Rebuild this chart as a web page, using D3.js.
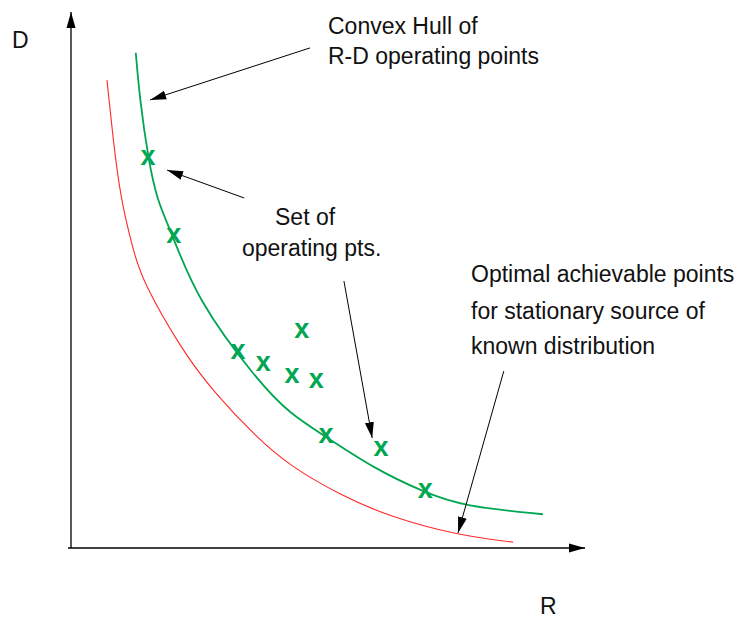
<!DOCTYPE html>
<meta charset="utf-8">
<title>R-D operating points</title>
<style>
  body { margin: 0; background: #fff; }
  svg { font-family: "Liberation Sans", Arial, sans-serif; }
  .axis-line { stroke: #000; stroke-width: 1.3; fill: none; }
  .hull { stroke: #00a651; stroke-width: 1.8; fill: none; }
  .bound { stroke: #ff2a2a; stroke-width: 1.1; fill: none; }
  .pt { fill: #00a651; font-weight: bold; font-size: 27px; text-anchor: middle; }
  .note { font-size: 23px; fill: #111; }
  .pointer { stroke: #000; stroke-width: 1; fill: none; }
</style>
<body>
<script src="https://cdn.jsdelivr.net/npm/d3@7"></script>
<script>
// operating points (R, D)
var opR = [1.50, 2.00, 3.25, 3.74, 4.30, 4.49, 4.77, 4.96, 6.03, 6.89];
var opD = [7.28, 5.82, 3.66, 3.43, 3.21, 4.05, 3.12, 2.09, 1.85, 1.06];

// convex hull curve of the operating points
var hullR = [1.26, 1.34, 1.50, 1.67, 1.96, 2.45, 3.62, 4.26, 4.94, 5.88, 6.89, 7.63, 9.18];
var hullD = [9.24, 8.36, 7.28, 6.49, 5.88, 4.63, 3.13, 2.50, 2.09, 1.49, 1.03, 0.78, 0.63];

// optimal achievable (R-D bound)
var boundR = [0.70, 0.82, 0.97, 1.21, 1.38, 2.16, 2.74, 3.62, 4.26, 5.23, 6.21, 7.51, 8.60];
var boundD = [8.73, 7.61, 6.49, 5.56, 5.00, 3.69, 2.95, 2.05, 1.53, 0.99, 0.58, 0.24, 0.11];

// annotation arrows, in data units: from (r0,d0) to (r1,d1)
var arrowFrom = [[4.65, 9.33], [3.37, 6.53], [5.31, 4.98], [8.42, 3.30]];
var arrowTo   = [[1.54, 8.36], [1.87, 7.05], [5.86, 2.05], [7.53, 0.28]];

var labels = [
  {x: 328, y: 34, t: "Convex Hull of"},
  {x: 328, y: 64, t: "R-D operating points"},
  {x: 275, y: 225, t: "Set of"},
  {x: 242, y: 256, t: "operating pts."},
  {x: 471, y: 282, t: "Optimal achievable points"},
  {x: 471, y: 319, t: "for stationary source of"},
  {x: 471, y: 354, t: "known distribution"},
  {x: 12, y: 48, t: "D"},
  {x: 540, y: 614, t: "R"}
];

var width = 744, height = 620;

var x = d3.scaleLinear().domain([0, 10]).range([71, 585]);
var y = d3.scaleLinear().domain([0, 10]).range([548, 12]);

var svg = d3.select("body").append("svg")
    .attr("width", width)
    .attr("height", height);

svg.append("defs").append("marker")
    .attr("id", "head")
    .attr("markerUnits", "userSpaceOnUse")
    .attr("viewBox", "0 -5 16 10")
    .attr("refX", 16).attr("refY", 0)
    .attr("markerWidth", 16).attr("markerHeight", 10)
    .attr("orient", "auto")
  .append("path")
    .attr("d", "M0,-4.5L16,0L0,4.5Z")
    .attr("fill", "#000");

var seg = d3.line()
    .x(function(d) { return x(d[0]); })
    .y(function(d) { return y(d[1]); });

// axes
svg.append("path").attr("class", "axis-line")
    .attr("d", seg([[0, 0], [0, 10]]))
    .attr("marker-end", "url(#head)");
svg.append("path").attr("class", "axis-line")
    .attr("d", "M" + (x(0) - 3) + "," + y(0) + "H" + x(10))
    .attr("marker-end", "url(#head)");

// smooth b-spline through the sampled curve points
var curve = d3.line()
    .x(function(d) { return x(d[0]); })
    .y(function(d) { return y(d[1]); })
    .curve(d3.curveBasis);

svg.append("path").attr("class", "bound")
    .attr("d", curve(d3.zip(boundR, boundD)));

svg.append("path").attr("class", "hull")
    .attr("d", curve(d3.zip(hullR, hullD)));

svg.selectAll("text.pt")
    .data(d3.zip(opR, opD))
  .enter().append("text")
    .attr("class", "pt")
    .attr("x", function(d) { return x(d[0]); })
    .attr("y", function(d) { return y(d[1]) + 7; })
    .text("x");

svg.selectAll("path.pointer")
    .data(d3.zip(arrowFrom, arrowTo))
  .enter().append("path")
    .attr("class", "pointer")
    .attr("d", function(d) { return seg(d); })
    .attr("marker-end", "url(#head)");

svg.selectAll("text.note")
    .data(labels)
  .enter().append("text")
    .attr("class", "note")
    .attr("x", function(d) { return d.x; })
    .attr("y", function(d) { return d.y; })
    .text(function(d) { return d.t; });
</script>
</body>
